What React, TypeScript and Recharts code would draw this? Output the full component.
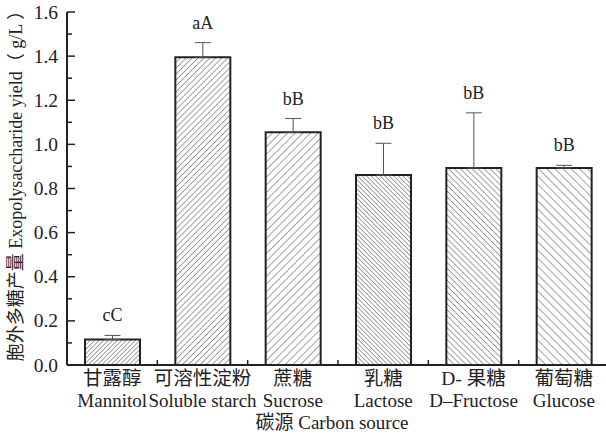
import React from "react";
import { BarChart, Bar, XAxis, YAxis, ErrorBar, Cell, LabelList } from "recharts";

const categoriesCn = ["甘露醇", "可溶性淀粉", "蔗糖", "乳糖", "D- 果糖", "葡萄糖"];
const categoriesEn = ["Mannitol", "Soluble starch", "Sucrose", "Lactose", "D–Fructose", "Glucose"];
const yieldValues = [0.116, 1.395, 1.055, 0.861, 0.893, 0.893];
const errorValues = [0.018, 0.066, 0.062, 0.144, 0.25, 0.012];
const groupLetters = ["cC", "aA", "bB", "bB", "bB", "bB"];
const yTicks = [0, 0.1, 0.2, 0.3, 0.4, 0.5, 0.6, 0.7, 0.8, 0.9, 1.0, 1.1, 1.2, 1.3, 1.4, 1.5, 1.6];

const data = categoriesCn.map((cn, i) => ({
  cn,
  en: categoriesEn[i],
  value: yieldValues[i],
  err: [0, errorValues[i]],
  letter: groupLetters[i],
}));

// hatch angle and line spacing for each bar
const hatches = [
  { angle: 45, gap: 3.2 },
  { angle: 45, gap: 4.2 },
  { angle: 45, gap: 5.4 },
  { angle: -45, gap: 3.2 },
  { angle: -45, gap: 4.2 },
  { angle: -45, gap: 5.8 },
];

const W = 612;
const H = 436;
const MARGIN = { top: 12, right: 3, bottom: 0, left: 0 };
const Y_AXIS_W = 67;
const X_AXIS_H = 71;
const BAND = (W - MARGIN.left - MARGIN.right - Y_AXIS_W) / categoriesCn.length;
const FONT = "'Liberation Serif', 'Times New Roman', 'DejaVu Serif', 'Noto Sans CJK SC', serif";
const INK = "#222";

const YTick = (props: any) => {
  const { x, y, payload } = props;
  const major = Math.round(payload.value * 10) % 2 === 0;
  return (
    <g>
      <line x1={x} x2={x + (major ? 8 : 5)} y1={y} y2={y} stroke={INK} strokeWidth={1.5} />
      {major && (
        <text x={x - 9} y={y + 6.5} textAnchor="end" style={{ fontSize: 19.5, fontFamily: FONT }} fill={INK}>
          {payload.value.toFixed(1)}
        </text>
      )}
    </g>
  );
};

const XTick = (props: any) => {
  const { x, y, index } = props;
  const d = data[index];
  return (
    <g>
      {index > 0 && (
        <line x1={x - BAND / 2} x2={x - BAND / 2} y1={y} y2={y - 5} stroke={INK} strokeWidth={1.5} />
      )}
      <text x={x} y={y + 20} textAnchor="middle" style={{ fontSize: 19.5, fontFamily: FONT }} fill={INK}>
        {d.cn}
      </text>
      <text x={x} y={y + 42} textAnchor="middle" style={{ fontSize: 19, fontFamily: FONT }} fill={INK}>
        {d.en}
      </text>
    </g>
  );
};

const LetterLabel = (props: any) => {
  const { x, y, width, height, index } = props;
  const d = data[index];
  const pxPerUnit = height / d.value;
  const top = y - errorValues[index] * pxPerUnit;
  return (
    <text x={x + width / 2} y={top - 14} textAnchor="middle" style={{ fontSize: 18, fontFamily: FONT }} fill={INK}>
      {d.letter}
    </text>
  );
};

const YLabel = (props: any) => {
  const { viewBox } = props;
  const cy = viewBox.y + viewBox.height / 2 - 7;
  return (
    <text
      x={16}
      y={cy}
      transform={`rotate(-90 16 ${cy})`}
      textAnchor="middle"
      dominantBaseline="central"
      style={{ fontSize: 18, fontFamily: FONT }}
      fill={INK}
    >
      胞外多糖产量 Exopolysaccharide yield（ g/L ）
    </text>
  );
};

const XLabel = (props: any) => {
  const { viewBox } = props;
  return (
    <text
      x={viewBox.x + viewBox.width / 2 - 6}
      y={viewBox.y + 64}
      textAnchor="middle"
      style={{ fontSize: 19, fontFamily: FONT }}
      fill={INK}
    >
      碳源 Carbon source
    </text>
  );
};

export default function App() {
  return (
    <div style={{ position: "fixed", left: 0, top: 0, width: 606, height: H, overflow: "hidden", background: "#fff" }}>
      <BarChart width={W} height={H} data={data} margin={MARGIN} barSize={55}>
        <defs>
          {hatches.map((h, i) => (
            <pattern
              key={i}
              id={`hatch${i}`}
              patternUnits="userSpaceOnUse"
              width={h.gap}
              height={h.gap}
              patternTransform={`rotate(${h.angle})`}
            >
              <rect width={h.gap} height={h.gap} fill="#fff" />
              <line x1={0} y1={0} x2={0} y2={h.gap} stroke="#333" strokeWidth={0.9} />
            </pattern>
          ))}
        </defs>
        <XAxis
          dataKey="cn"
          interval={0}
          height={X_AXIS_H}
          tickSize={0}
          tickMargin={0}
          tick={<XTick />}
          axisLine={{ stroke: INK, strokeWidth: 2 }}
          tickLine={false}
          label={{ content: <XLabel /> }}
        />
        <YAxis
          type="number"
          domain={[0, 1.6]}
          ticks={yTicks}
          width={Y_AXIS_W}
          tickSize={0}
          tickMargin={0}
          tick={<YTick />}
          interval={0}
          axisLine={{ stroke: INK, strokeWidth: 2 }}
          tickLine={false}
          label={{ content: <YLabel /> }}
        />
        <Bar dataKey="value" isAnimationActive={false} stroke={INK} strokeWidth={2}>
          {data.map((_, i) => (
            <Cell key={i} fill={`url(#hatch${i})`} />
          ))}
          <ErrorBar dataKey="err" width={8} stroke="#555" strokeWidth={1} direction="y" />
          <LabelList dataKey="letter" content={<LetterLabel />} />
        </Bar>
      </BarChart>
    </div>
  );
}
